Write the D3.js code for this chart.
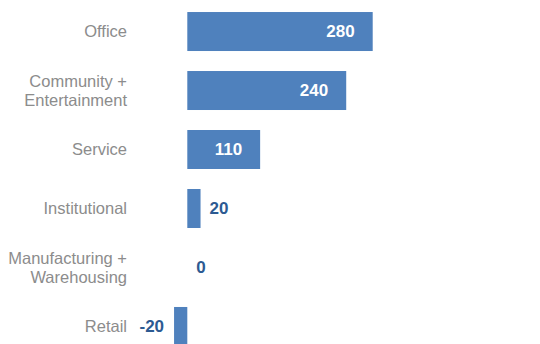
<!DOCTYPE html>
<html>
<head>
<meta charset="utf-8">
<script src="https://cdn.jsdelivr.net/npm/d3@7/dist/d3.min.js"></script>
<style>
  html, body { margin: 0; padding: 0; background: #fff; }
  svg { display: block; }
</style>
</head>
<body>
<svg id="chart" width="540" height="344"></svg>
<script>
// Change by building type
const categories = [
  ["Office"],
  ["Community +", "Entertainment"],
  ["Service"],
  ["Institutional"],
  ["Manufacturing +", "Warehousing"],
  ["Retail"]
];
const values = [280, 240, 110, 20, 0, -20];

const W = 540, H = 344;
const svg = d3.select("#chart");

const x = d3.scaleLinear().domain([0, 280]).range([187.3, 372.7]);
const y = d3.scaleBand()
  .domain(d3.range(values.length))
  .range([2, 356])
  .paddingInner(0.339)
  .paddingOuter(0.17);

const barColor = "#4f81bd";
const outColor = "#2c5a92";
const catColor = "#8c8c8c";

// bars
svg.append("g").selectAll("rect")
  .data(values)
  .join("rect")
  .attr("x", d => x(Math.min(0, d)))
  .attr("y", (d, i) => y(i))
  .attr("width", d => Math.abs(x(d) - x(0)))
  .attr("height", y.bandwidth())
  .attr("fill", barColor);

// category labels
const cat = svg.append("g")
  .attr("font-family", "Liberation Sans, Arial, sans-serif")
  .attr("font-size", "16.5px")
  .attr("fill", catColor)
  .attr("text-anchor", "end");

categories.forEach((lines, i) => {
  const cy = y(i) + y.bandwidth() / 2;
  const lh = 19;
  const t = cat.append("text").attr("x", 127).attr("y", cy - (lines.length - 1) * lh / 2);
  lines.forEach((ln, j) => {
    t.append("tspan")
      .attr("x", 127)
      .attr("dy", j === 0 ? "0.35em" : lh)
      .text(ln);
  });
});

// value labels
const inside = d => d >= 100;
svg.append("g")
  .attr("font-family", "Liberation Sans, Arial, sans-serif")
  .attr("font-size", "17px")
  .attr("font-weight", "bold")
  .selectAll("text")
  .data(values)
  .join("text")
  .attr("y", (d, i) => y(i) + y.bandwidth() / 2)
  .attr("dy", "0.35em")
  .attr("x", d => inside(d) ? x(d) - 18 : (d < 0 ? x(d) - 10 : x(d) + 9))
  .attr("text-anchor", d => inside(d) ? "end" : (d < 0 ? "end" : "start"))
  .attr("fill", d => inside(d) ? "#ffffff" : outColor)
  .text(d => d);
</script>
</body>
</html>
